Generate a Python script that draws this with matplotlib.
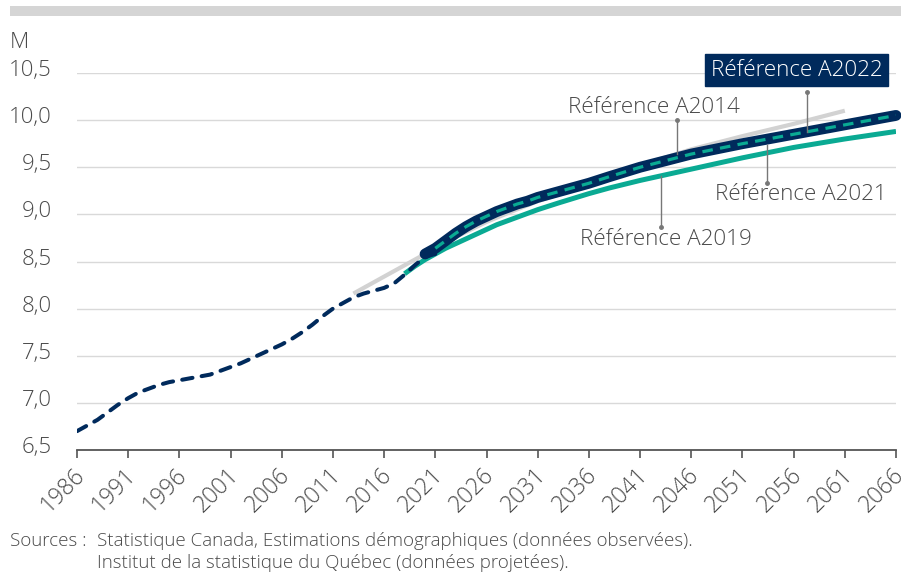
import numpy as np
import matplotlib
matplotlib.use("Agg")
import matplotlib.pyplot as plt
import matplotlib.transforms as mtransforms
from matplotlib.patches import Rectangle

plt.rcParams['font.family'] = ['Open Sans', 'DejaVu Sans']
plt.rcParams['font.weight'] = 'light'

# observed population (millions)
hist_years = list(range(1986, 2022))
hist_vals = [6.70, 6.76, 6.82, 6.90, 6.98, 7.05, 7.11, 7.15, 7.19, 7.22,
             7.24, 7.26, 7.28, 7.30, 7.34, 7.38, 7.42, 7.47, 7.52, 7.57,
             7.62, 7.68, 7.75, 7.83, 7.92, 8.00, 8.06, 8.12, 8.16, 8.19,
             8.22, 8.27, 8.36, 8.46, 8.55, 8.58]

# projections
a2014_years = [2013, 2015, 2017, 2019, 2021, 2023, 2026, 2028, 2031, 2033, 2036,
               2041, 2046, 2051, 2056, 2061]
a2014_vals = [8.16, 8.28, 8.40, 8.52, 8.64, 8.76, 8.92, 9.01, 9.14, 9.21, 9.32,
              9.52, 9.69, 9.83, 9.96, 10.10]

a2019_years = [2018, 2019, 2020, 2021, 2022, 2023, 2024, 2025, 2026, 2027, 2028,
               2029, 2031, 2033, 2036, 2038, 2041, 2046, 2051, 2056, 2061, 2066]
a2019_vals = [8.37, 8.45, 8.52, 8.58, 8.64, 8.69, 8.74, 8.79, 8.84, 8.89, 8.93,
              8.97, 9.05, 9.12, 9.22, 9.28, 9.36, 9.48, 9.60, 9.71, 9.80, 9.88]

a2021_years = [2020, 2021, 2022, 2023, 2024, 2025, 2026, 2027, 2028, 2029, 2030,
               2031, 2032, 2034, 2036, 2038, 2041, 2046, 2051, 2056, 2061, 2066]
a2021_vals = [8.58, 8.64, 8.72, 8.80, 8.87, 8.93, 8.98, 9.03, 9.07, 9.11, 9.14,
              9.18, 9.21, 9.27, 9.33, 9.40, 9.50, 9.64, 9.75, 9.85, 9.95, 10.05]

a2022_years = [2021, 2022, 2023, 2024, 2025, 2026, 2027, 2028, 2029, 2030,
               2031, 2032, 2034, 2036, 2038, 2041, 2046, 2051, 2056, 2061, 2066]
a2022_vals = [8.64, 8.72, 8.80, 8.87, 8.93, 8.98, 9.03, 9.07, 9.11, 9.14,
              9.18, 9.21, 9.27, 9.33, 9.40, 9.50, 9.64, 9.75, 9.85, 9.95, 10.05]

xticks = list(range(1986, 2067, 5))
yticks = [6.5, 7.0, 7.5, 8.0, 8.5, 9.0, 9.5, 10.0, 10.5]
ytick_labels = ["6,5", "7,0", "7,5", "8,0", "8,5", "9,0", "9,5", "10,0", "10,5"]

navy = "#002a5c"
teal = "#0aaa93"
grey_line = "#d2d2d2"
txt = "#4a4a4a"

fig = plt.figure(figsize=(9.01, 5.75), dpi=100)
ax = fig.add_axes([77 / 901, 125 / 575, 819 / 901, 377 / 575])

# top grey band
fig.patches.append(Rectangle((10 / 901, 1 - 16 / 575), 891 / 901, 10 / 575,
                             transform=fig.transFigure, color="#d5d5d5", lw=0))

ax.plot(a2014_years, a2014_vals, color=grey_line, lw=3.0, solid_capstyle='butt', zorder=2)
ax.plot(a2019_years, a2019_vals, color=teal, lw=3.6, solid_capstyle='butt', zorder=3)
ax.plot(hist_years, hist_vals, color=navy, lw=2.9, dashes=(2.6, 2.3),
        dash_capstyle='round', zorder=4)
ax.plot(a2021_years, a2021_vals, color=navy, lw=7.8, solid_capstyle='round',
        zorder=5, clip_on=False)
ax.plot(a2022_years, a2022_vals, color=teal, lw=2.3, dashes=(3.3, 2.3), zorder=6)

ax.set_xlim(1986, 2066)
ax.set_ylim(6.5, 10.5)
ax.set_xticks(xticks)
ax.set_xticklabels([str(y) for y in xticks], rotation=45, ha='right',
                   rotation_mode='anchor', fontsize=16.5, color=txt)
ax.set_yticks(yticks)
ax.set_yticklabels(ytick_labels, fontsize=16, color=txt)
ax.tick_params(axis='y', length=0, pad=18)
ax.tick_params(axis='x', length=5.5, width=1.2, color="#555555", pad=4)
dy = mtransforms.ScaledTranslation(0, 5 / 100, fig.dpi_scale_trans)
for lab in ax.get_yticklabels():
    lab.set_transform(lab.get_transform() + dy)
dx = mtransforms.ScaledTranslation(-4 / 100, 0, fig.dpi_scale_trans)
for lab in ax.get_xticklabels():
    lab.set_transform(lab.get_transform() + dx)

ax.grid(axis='y', color="#d9d9d9", lw=1)
ax.set_axisbelow(True)
for s in ["top", "right", "left"]:
    ax.spines[s].set_visible(False)
ax.spines["bottom"].set_color("#555555")
ax.spines["bottom"].set_linewidth(1.3)
ax.spines["bottom"].set_zorder(1)


def pointer(x, y_text, years, vals, off):
    y_line = np.interp(x, years, vals) + off
    ax.plot([x, x], [y_text, y_line], color="#777777", lw=1, zorder=7, clip_on=False)
    ax.plot([x], [y_text], 'o', color="#777777", ms=2.5, zorder=7, clip_on=False)


lab_kw = dict(fontsize=16.2, color=txt, ha='center', va='center', zorder=8)
ax.text(2042.4, 10.13, "Référence A2014", **lab_kw)
pointer(2044.6, 10.00, a2014_years, a2014_vals, 0.0)
ax.text(2056.7, 9.21, "Référence A2021", **lab_kw)
pointer(2053.4, 9.33, a2021_years, a2021_vals, -0.06)
ax.text(2043.5, 8.73, "Référence A2019", **lab_kw)
pointer(2043.0, 8.87, a2019_years, a2019_vals, 0.0)
ax.text(2056.3, 10.53, "Référence A2022", fontsize=16.2, color="white", ha='center',
        va='center', zorder=8, clip_on=False,
        bbox=dict(boxstyle="square,pad=0.25", fc=navy, ec=navy))
pointer(2057.3, 10.30, a2022_years, a2022_vals, 0.0)

fig.text(10 / 901, 1 - 42 / 575, "M", fontsize=16, color=txt, va='center', ha='left')
fig.text(10 / 901, 1 - 541 / 575, "Sources :", fontsize=13.5, color=txt, va='center')
fig.text(97 / 901, 1 - 541 / 575,
         "Statistique Canada, Estimations démographiques (données observées).",
         fontsize=13.5, color=txt, va='center')
fig.text(97 / 901, 1 - 563 / 575,
         "Institut de la statistique du Québec (données projetées).",
         fontsize=13.5, color=txt, va='center')

fig.savefig("out.png", dpi=100)
